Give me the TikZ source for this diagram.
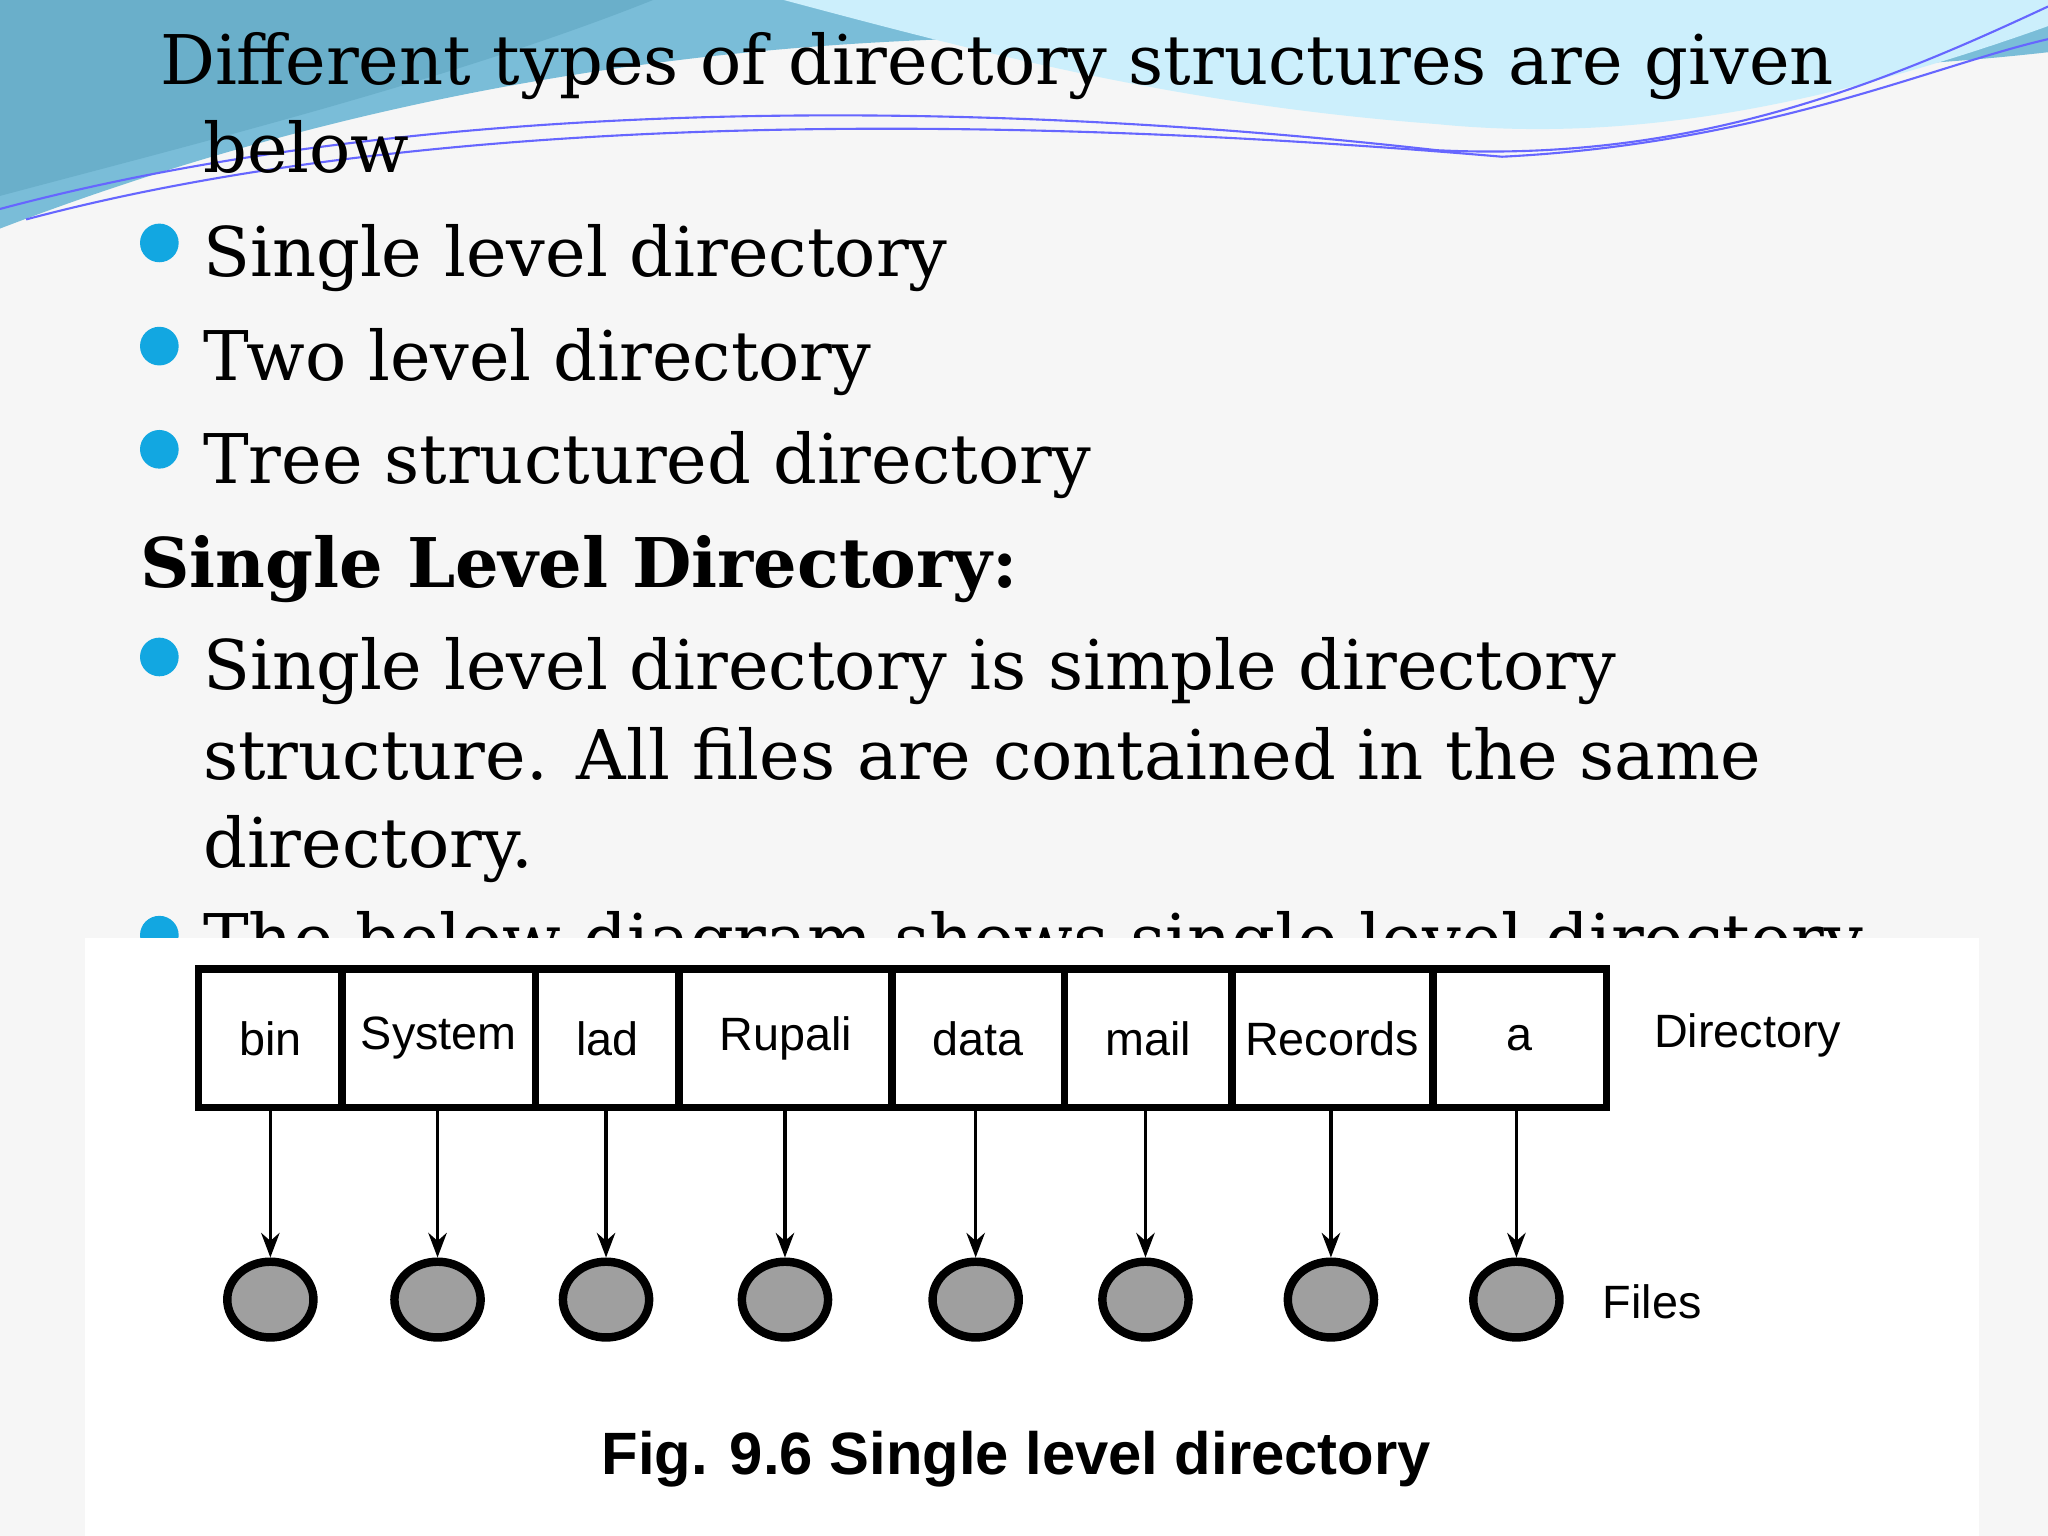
\documentclass[tikz,border=0pt]{standalone}
\usepackage{fontspec}
\setmainfont{DejaVu Serif}
\setsansfont{Liberation Sans}
\usetikzlibrary{shapes.geometric,arrows.meta}
\begin{document}
\begin{tikzpicture}[x=0.013061cm,y=-0.013061cm,
  body/.style={anchor=base west,inner sep=0,font=\fontsize{19.5}{24}\selectfont},
  bul/.style={circle,fill=cyan!85!teal,inner sep=0,minimum size=11},
  cell/.style={draw,line width=2.2pt,minimum height=106*0.13061mm,inner sep=0,font=\sffamily\fontsize{13.3}{15}\selectfont},
  fil/.style={ellipse,draw,line width=2.4pt,fill=gray!75,minimum width=66*0.13061mm,minimum height=58*0.13061mm,inner sep=0},
  arr/.style={-{Stealth[length=7pt]},line width=0.9pt}]
\useasboundingbox (0,0) rectangle (1568,1176);
\fill[gray!7] (0,0) rectangle (1568,1176);
% wave
\fill[cyan!50!teal!60] (0,0) -- (1568,0) -- (1568,40) .. controls (1300,70) and (1100,40) .. (900,30) .. controls (600,20) and (300,60) .. (0,175) -- cycle;
\fill[cyan!20!white] (600,0) -- (1568,0) -- (1568,20) .. controls (1400,80) and (1250,110) .. (1100,95) .. controls (900,80) and (750,40) .. (600,0) -- cycle;
\fill[cyan!40!teal!70] (0,0) -- (500,0) .. controls (350,60) and (150,110) .. (0,150) -- cycle;
\draw[blue!60,line width=0.6pt] (0,160) .. controls (300,80) and (700,70) .. (1100,115) .. controls (1300,125) and (1450,60) .. (1568,5);
\draw[blue!60,line width=0.6pt] (20,168) .. controls (350,80) and (800,90) .. (1150,120) .. controls (1350,110) and (1480,50) .. (1568,30);
% text
\node[body] (t1) at (122,65) {Different types of directory structures are given};
\node[body] (t2) at (155,132) {below};
\node[bul] (b1) at (122,186) {}; \node[body] (l1) at (155,212) {Single level directory};
\node[bul] (b2) at (122,265) {}; \node[body] (l2) at (155,291) {Two level directory};
\node[bul] (b3) at (122,344) {}; \node[body] (l3) at (155,370) {Tree structured directory};
\node[body,font=\bfseries\fontsize{19.5}{24}\selectfont] (h) at (107,450) {Single Level Directory:};
\node[bul] (b4) at (122,503) {}; \node[body] (p1) at (155,528) {Single level directory is simple directory};
\node[body] (p2) at (155,597) {structure. All files are contained in the same};
\node[body] (p3) at (155,664) {directory.};
\node[bul] (b5) at (122,716) {}; \node[body] (p4) at (155,738) {The below diagram shows single level directory};
\fill[white] (65,718) rectangle (1515,1176);
% diagram
\foreach \a/\b/\t/\n in {152/262/bin/c1,262/410/System/c2,410/520/lad/c3,520/683/Rupali/c4,683/815/data/c5,815/943/mail/c6,943/1097/Records/c7,1097/1230/a/c8}{
  \node[cell,minimum width=(\b-\a)*0.13061mm] (\n) at ({(\a+\b)/2},795) {\t};
}
\foreach \i/\x in {1/207,2/335,3/464,4/601,5/747,6/877,7/1019,8/1161}{
  \node[fil] (f\i) at (\x,995) {};
  \draw[arr] (\x,848) coordinate (s\i) -- (f\i.north);
}
\node[font=\sffamily\fontsize{13.3}{15}\selectfont] (dl) at (1338,793) {Directory};
\node[font=\sffamily\fontsize{13.3}{15}\selectfont] (fl) at (1265,997) {Files};
\node[font=\sffamily\bfseries\fontsize{17}{20}\selectfont] (cap) at (778,1117) {Fig. 9.6 Single level directory};
\end{tikzpicture}
\end{document}
